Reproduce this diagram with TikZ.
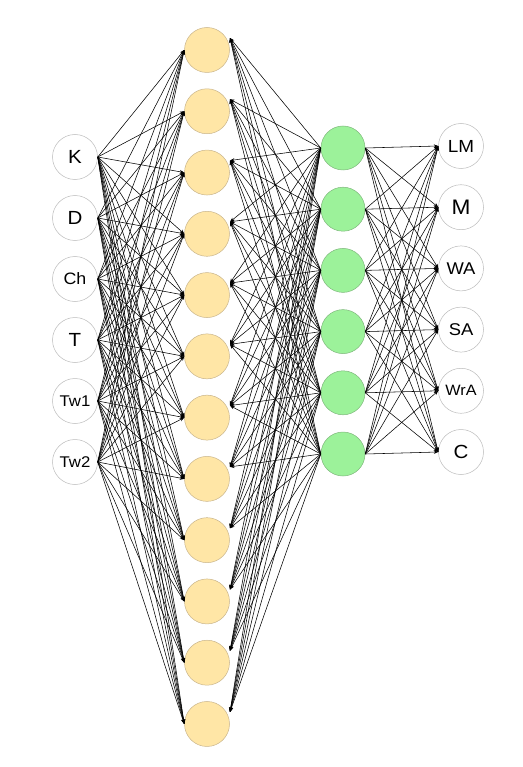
\documentclass[tikz,border=0pt]{standalone}
\usepackage{fontspec}
\setmainfont{Liberation Sans}
\usetikzlibrary{arrows.meta,calc}
\definecolor{orfill}{HTML}{FFE6A6}
\definecolor{ordraw}{HTML}{C9B58C}
\definecolor{grfill}{HTML}{9CF29A}
\definecolor{grdraw}{HTML}{7FB77C}
\definecolor{wdraw}{HTML}{BBBBBB}
\begin{document}
\begin{tikzpicture}[x=1pt,y=-1pt,
 inn/.style={circle,draw=wdraw,fill=white,minimum size=45pt,inner sep=0pt,line width=0.5pt},
 hid/.style={circle,draw=ordraw,fill=orfill,minimum size=45pt,inner sep=0pt,line width=0.5pt},
 grn/.style={circle,draw=grdraw,fill=grfill,minimum size=44pt,inner sep=0pt,line width=0.5pt},
 edge/.style={-{Stealth[length=4.5pt,width=3.5pt]},line width=0.55pt}]
\useasboundingbox (0,0) rectangle (522,767);
% input layer
\foreach \lab/\fs [count=\i] in {K/19,D/19,Ch/16.5,T/19,Tw1/15.5,Tw2/15.5}
  \node[inn,font=\fontsize{\fs}{\fs}\selectfont] (in\i) at (75,{157+61*(\i-1)}) {\scalebox{1.08}[1]{\lab}};
% hidden layer 1
\foreach \j in {1,...,12}{
  \node[hid] (h\j) at (207,{50+61.27*(\j-1)}) {};
  \coordinate (hr\j) at ($(h\j)+(23,-12)$);
}
% hidden layer 2
\foreach \g in {1,...,6}
  \node[grn] (g\g) at (343,{148+61.2*(\g-1)}) {};
% output layer
\foreach \lab/\fs [count=\k] in {LM/17.5,M/21,WA/17,SA/17,WrA/15,C/19}
  \node[inn,font=\fontsize{\fs}{\fs}\selectfont] (o\k) at (461,{146+61.2*(\k-1)}) {\scalebox{1.08}[1]{\lab}};
% edges
\foreach \i in {1,...,6}
  \foreach \j in {1,...,12}
    \draw[edge] (in\i.east) -- (h\j.west);
\foreach \g in {1,...,6}
  \foreach \j in {1,...,12}
    \draw[edge] (g\g.west) -- (hr\j);
\foreach \g in {1,...,6}
  \foreach \k in {1,...,6}
    \draw[edge] (g\g.east) -- (o\k.west);
\end{tikzpicture}
\end{document}
